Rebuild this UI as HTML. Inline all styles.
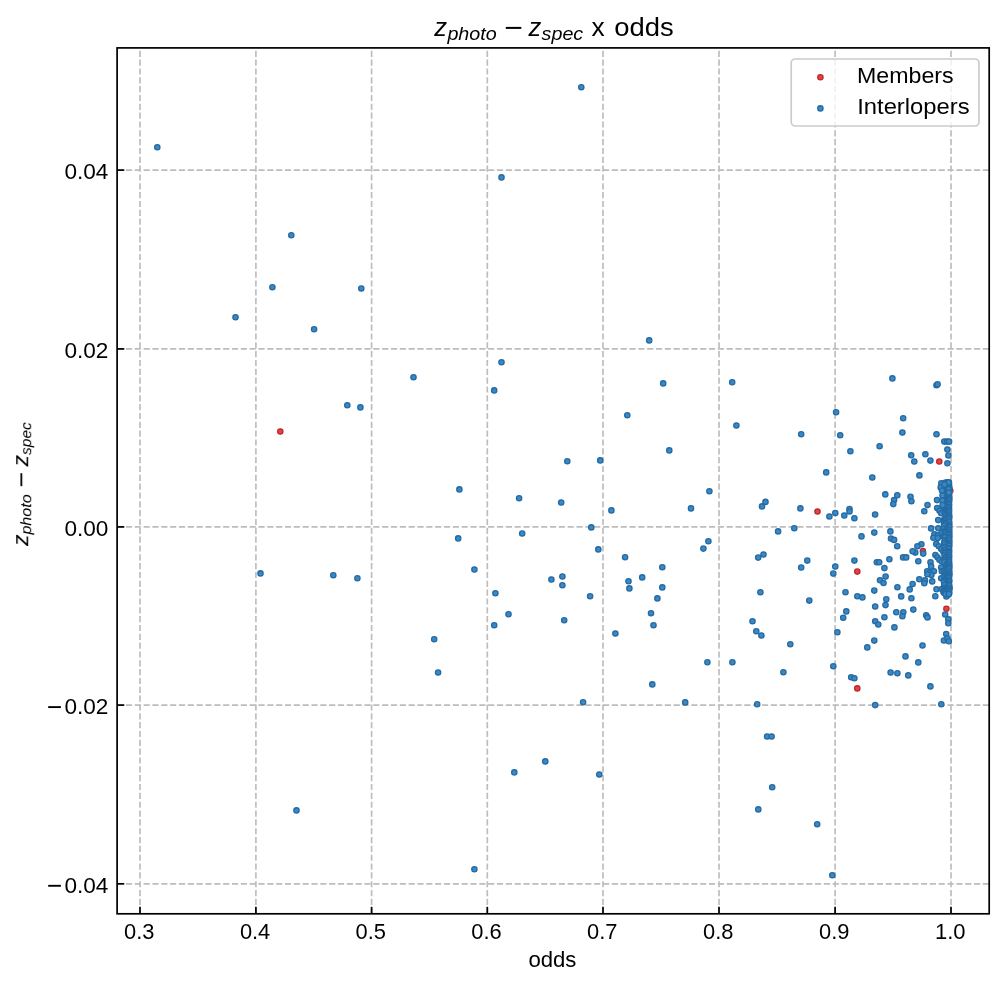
<!DOCTYPE html>
<html><head><meta charset="utf-8"><title>z_photo - z_spec x odds</title>
<style>
html,body{margin:0;padding:0;background:#fff;}
body{width:1004px;height:985px;overflow:hidden;font-family:"Liberation Sans",sans-serif;}
svg{display:block;}
text{font-family:"Liberation Sans",sans-serif;fill:#000;}
.it{font-style:italic;}
</style></head><body>
<svg width="1004" height="985" viewBox="0 0 1004 985">
<defs><filter id="gf" x="0" y="0" width="1004" height="985" filterUnits="userSpaceOnUse" color-interpolation-filters="sRGB"><feOffset dx="0" dy="0"/></filter></defs>
<rect x="0" y="0" width="1004" height="985" fill="#ffffff"/>
<g filter="url(#gf)">

<g stroke="#bdbdbd" stroke-width="1.667" stroke-dasharray="6.167 2.667" fill="none">
<line x1="140.0" y1="913.8" x2="140.0" y2="47.9"/>
<line x1="255.9" y1="913.8" x2="255.9" y2="47.9"/>
<line x1="371.6" y1="913.8" x2="371.6" y2="47.9"/>
<line x1="487.3" y1="913.8" x2="487.3" y2="47.9"/>
<line x1="603.0" y1="913.8" x2="603.0" y2="47.9"/>
<line x1="719.0" y1="913.8" x2="719.0" y2="47.9"/>
<line x1="835.1" y1="913.8" x2="835.1" y2="47.9"/>
<line x1="951.0" y1="913.8" x2="951.0" y2="47.9"/>
<line x1="117.1" y1="170.1" x2="989.2" y2="170.1"/>
<line x1="117.1" y1="348.9" x2="989.2" y2="348.9"/>
<line x1="117.1" y1="526.9" x2="989.2" y2="526.9"/>
<line x1="117.1" y1="705.1" x2="989.2" y2="705.1"/>
<line x1="117.1" y1="883.8" x2="989.2" y2="883.8"/>
</g>
<g fill="#e04446" stroke="#c0272a" stroke-width="1.3"><circle cx="280.3" cy="431.5" r="2.65"/>
<circle cx="817.5" cy="511.5" r="2.65"/>
<circle cx="857.3" cy="571.6" r="2.65"/>
<circle cx="857.3" cy="688.4" r="2.65"/>
<circle cx="939.3" cy="461.5" r="2.65"/>
<circle cx="950.3" cy="490.7" r="2.65"/>
<circle cx="922.9" cy="551.0" r="2.65"/>
<circle cx="946.4" cy="608.8" r="2.65"/></g>
<g fill="#3a88c4" stroke="#256aa3" stroke-width="1.3"><path d="M948.1 485 L948.1 594" stroke="#2c7ab6" stroke-width="8.4" stroke-linecap="round" fill="none"/><circle cx="157.3" cy="147.2" r="2.65"/>
<circle cx="291.3" cy="235.2" r="2.65"/>
<circle cx="272.4" cy="287.3" r="2.65"/>
<circle cx="361.3" cy="288.5" r="2.65"/>
<circle cx="235.5" cy="317.2" r="2.65"/>
<circle cx="314.1" cy="329.3" r="2.65"/>
<circle cx="347.3" cy="405.3" r="2.65"/>
<circle cx="360.4" cy="407.4" r="2.65"/>
<circle cx="260.5" cy="573.4" r="2.65"/>
<circle cx="333.3" cy="575.3" r="2.65"/>
<circle cx="357.4" cy="578.3" r="2.65"/>
<circle cx="296.5" cy="810.4" r="2.65"/>
<circle cx="581.3" cy="87.2" r="2.65"/>
<circle cx="501.5" cy="177.4" r="2.65"/>
<circle cx="649.2" cy="340.4" r="2.65"/>
<circle cx="501.5" cy="362.3" r="2.65"/>
<circle cx="413.5" cy="377.3" r="2.65"/>
<circle cx="494.2" cy="390.4" r="2.65"/>
<circle cx="663.2" cy="383.4" r="2.65"/>
<circle cx="627.3" cy="415.3" r="2.65"/>
<circle cx="669.3" cy="450.4" r="2.65"/>
<circle cx="567.3" cy="461.3" r="2.65"/>
<circle cx="600.2" cy="460.4" r="2.65"/>
<circle cx="459.4" cy="489.4" r="2.65"/>
<circle cx="519.1" cy="498.2" r="2.65"/>
<circle cx="561.2" cy="502.5" r="2.65"/>
<circle cx="611.4" cy="510.4" r="2.65"/>
<circle cx="691.0" cy="508.4" r="2.65"/>
<circle cx="591.3" cy="527.4" r="2.65"/>
<circle cx="522.2" cy="533.5" r="2.65"/>
<circle cx="458.2" cy="538.4" r="2.65"/>
<circle cx="598.3" cy="549.4" r="2.65"/>
<circle cx="625.1" cy="557.3" r="2.65"/>
<circle cx="474.4" cy="569.5" r="2.65"/>
<circle cx="662.3" cy="567.3" r="2.65"/>
<circle cx="562.4" cy="576.5" r="2.65"/>
<circle cx="551.4" cy="579.5" r="2.65"/>
<circle cx="642.2" cy="577.4" r="2.65"/>
<circle cx="628.5" cy="581.3" r="2.65"/>
<circle cx="562.4" cy="585.3" r="2.65"/>
<circle cx="629.4" cy="588.4" r="2.65"/>
<circle cx="662.3" cy="587.4" r="2.65"/>
<circle cx="495.4" cy="593.2" r="2.65"/>
<circle cx="590.1" cy="596.3" r="2.65"/>
<circle cx="657.4" cy="598.4" r="2.65"/>
<circle cx="651.0" cy="613.3" r="2.65"/>
<circle cx="508.5" cy="614.2" r="2.65"/>
<circle cx="564.2" cy="620.3" r="2.65"/>
<circle cx="494.2" cy="625.3" r="2.65"/>
<circle cx="434.2" cy="639.3" r="2.65"/>
<circle cx="438.1" cy="672.5" r="2.65"/>
<circle cx="653.5" cy="625.3" r="2.65"/>
<circle cx="615.4" cy="633.5" r="2.65"/>
<circle cx="652.3" cy="684.4" r="2.65"/>
<circle cx="583.1" cy="702.3" r="2.65"/>
<circle cx="685.2" cy="702.4" r="2.65"/>
<circle cx="545.3" cy="761.4" r="2.65"/>
<circle cx="514.3" cy="772.4" r="2.65"/>
<circle cx="599.3" cy="774.5" r="2.65"/>
<circle cx="474.4" cy="869.3" r="2.65"/>
<circle cx="732.2" cy="382.2" r="2.65"/>
<circle cx="736.4" cy="425.5" r="2.65"/>
<circle cx="801.2" cy="434.2" r="2.65"/>
<circle cx="836.1" cy="412.3" r="2.65"/>
<circle cx="840.2" cy="435.2" r="2.65"/>
<circle cx="850.4" cy="451.3" r="2.65"/>
<circle cx="879.6" cy="446.2" r="2.65"/>
<circle cx="826.2" cy="472.4" r="2.65"/>
<circle cx="872.3" cy="477.5" r="2.65"/>
<circle cx="709.4" cy="491.3" r="2.65"/>
<circle cx="765.5" cy="501.9" r="2.65"/>
<circle cx="762.0" cy="506.4" r="2.65"/>
<circle cx="800.4" cy="508.4" r="2.65"/>
<circle cx="829.4" cy="516.5" r="2.65"/>
<circle cx="835.3" cy="513.1" r="2.65"/>
<circle cx="844.3" cy="515.5" r="2.65"/>
<circle cx="849.5" cy="509.0" r="2.65"/>
<circle cx="849.5" cy="511.5" r="2.65"/>
<circle cx="854.4" cy="518.2" r="2.65"/>
<circle cx="875.1" cy="514.5" r="2.65"/>
<circle cx="778.1" cy="531.4" r="2.65"/>
<circle cx="794.3" cy="528.3" r="2.65"/>
<circle cx="874.3" cy="532.6" r="2.65"/>
<circle cx="861.5" cy="536.4" r="2.65"/>
<circle cx="708.4" cy="541.3" r="2.65"/>
<circle cx="703.4" cy="548.6" r="2.65"/>
<circle cx="763.5" cy="554.5" r="2.65"/>
<circle cx="758.2" cy="557.6" r="2.65"/>
<circle cx="807.3" cy="560.6" r="2.65"/>
<circle cx="801.2" cy="567.5" r="2.65"/>
<circle cx="835.3" cy="566.5" r="2.65"/>
<circle cx="833.3" cy="573.6" r="2.65"/>
<circle cx="854.4" cy="560.6" r="2.65"/>
<circle cx="876.8" cy="562.3" r="2.65"/>
<circle cx="879.2" cy="562.3" r="2.65"/>
<circle cx="880.0" cy="580.2" r="2.65"/>
<circle cx="760.4" cy="592.3" r="2.65"/>
<circle cx="809.3" cy="600.6" r="2.65"/>
<circle cx="845.5" cy="592.3" r="2.65"/>
<circle cx="874.3" cy="590.6" r="2.65"/>
<circle cx="857.3" cy="596.3" r="2.65"/>
<circle cx="862.4" cy="597.4" r="2.65"/>
<circle cx="875.2" cy="606.5" r="2.65"/>
<circle cx="846.3" cy="611.4" r="2.65"/>
<circle cx="843.2" cy="617.7" r="2.65"/>
<circle cx="752.5" cy="621.3" r="2.65"/>
<circle cx="875.2" cy="621.3" r="2.65"/>
<circle cx="878.3" cy="624.5" r="2.65"/>
<circle cx="756.3" cy="631.3" r="2.65"/>
<circle cx="761.4" cy="635.5" r="2.65"/>
<circle cx="837.4" cy="632.3" r="2.65"/>
<circle cx="790.3" cy="644.3" r="2.65"/>
<circle cx="874.3" cy="640.6" r="2.65"/>
<circle cx="867.3" cy="647.4" r="2.65"/>
<circle cx="707.4" cy="662.3" r="2.65"/>
<circle cx="732.4" cy="662.3" r="2.65"/>
<circle cx="833.3" cy="666.3" r="2.65"/>
<circle cx="783.4" cy="672.3" r="2.65"/>
<circle cx="851.2" cy="677.3" r="2.65"/>
<circle cx="854.4" cy="678.2" r="2.65"/>
<circle cx="757.2" cy="704.3" r="2.65"/>
<circle cx="875.2" cy="705.1" r="2.65"/>
<circle cx="767.1" cy="736.5" r="2.65"/>
<circle cx="771.6" cy="736.5" r="2.65"/>
<circle cx="772.2" cy="787.3" r="2.65"/>
<circle cx="758.3" cy="809.4" r="2.65"/>
<circle cx="817.2" cy="824.3" r="2.65"/>
<circle cx="832.3" cy="875.2" r="2.65"/>
<circle cx="892.4" cy="378.4" r="2.65"/>
<circle cx="936.5" cy="385.3" r="2.65"/>
<circle cx="937.6" cy="384.3" r="2.65"/>
<circle cx="903.2" cy="418.3" r="2.65"/>
<circle cx="902.4" cy="432.5" r="2.65"/>
<circle cx="936.5" cy="434.2" r="2.65"/>
<circle cx="944.3" cy="441.6" r="2.65"/>
<circle cx="947.1" cy="441.6" r="2.65"/>
<circle cx="949.1" cy="441.6" r="2.65"/>
<circle cx="947.4" cy="449.5" r="2.65"/>
<circle cx="948.4" cy="455.5" r="2.65"/>
<circle cx="947.4" cy="463.3" r="2.65"/>
<circle cx="911.2" cy="455.2" r="2.65"/>
<circle cx="925.4" cy="454.2" r="2.65"/>
<circle cx="930.4" cy="460.6" r="2.65"/>
<circle cx="914.3" cy="461.5" r="2.65"/>
<circle cx="919.4" cy="475.4" r="2.65"/>
<circle cx="885.3" cy="494.4" r="2.65"/>
<circle cx="897.3" cy="495.2" r="2.65"/>
<circle cx="894.1" cy="500.0" r="2.65"/>
<circle cx="893.3" cy="504.1" r="2.65"/>
<circle cx="910.5" cy="496.8" r="2.65"/>
<circle cx="911.4" cy="501.3" r="2.65"/>
<circle cx="927.5" cy="505.1" r="2.65"/>
<circle cx="924.3" cy="511.2" r="2.65"/>
<circle cx="937.0" cy="500.1" r="2.65"/>
<circle cx="937.2" cy="508.1" r="2.65"/>
<circle cx="939.5" cy="510.8" r="2.65"/>
<circle cx="941.2" cy="513.2" r="2.65"/>
<circle cx="938.2" cy="520.1" r="2.65"/>
<circle cx="931.1" cy="528.4" r="2.65"/>
<circle cx="938.3" cy="528.2" r="2.65"/>
<circle cx="890.4" cy="531.4" r="2.65"/>
<circle cx="891.0" cy="538.5" r="2.65"/>
<circle cx="894.1" cy="539.9" r="2.65"/>
<circle cx="897.2" cy="546.3" r="2.65"/>
<circle cx="934.4" cy="534.2" r="2.65"/>
<circle cx="933.4" cy="537.8" r="2.65"/>
<circle cx="938.1" cy="535.4" r="2.65"/>
<circle cx="937.8" cy="538.1" r="2.65"/>
<circle cx="941.8" cy="532.3" r="2.65"/>
<circle cx="936.3" cy="543.9" r="2.65"/>
<circle cx="938.8" cy="546.3" r="2.65"/>
<circle cx="941.2" cy="549.0" r="2.65"/>
<circle cx="943.3" cy="551.8" r="2.65"/>
<circle cx="935.4" cy="555.1" r="2.65"/>
<circle cx="937.5" cy="557.3" r="2.65"/>
<circle cx="939.4" cy="559.7" r="2.65"/>
<circle cx="941.8" cy="561.5" r="2.65"/>
<circle cx="921.4" cy="544.2" r="2.65"/>
<circle cx="917.4" cy="546.3" r="2.65"/>
<circle cx="923.2" cy="553.6" r="2.65"/>
<circle cx="915.3" cy="552.6" r="2.65"/>
<circle cx="912.6" cy="551.3" r="2.65"/>
<circle cx="903.1" cy="557.4" r="2.65"/>
<circle cx="906.2" cy="557.4" r="2.65"/>
<circle cx="889.4" cy="559.3" r="2.65"/>
<circle cx="918.3" cy="561.2" r="2.65"/>
<circle cx="930.5" cy="562.2" r="2.65"/>
<circle cx="884.4" cy="568.1" r="2.65"/>
<circle cx="931.1" cy="566.4" r="2.65"/>
<circle cx="927.2" cy="571.3" r="2.65"/>
<circle cx="930.2" cy="572.5" r="2.65"/>
<circle cx="933.9" cy="571.3" r="2.65"/>
<circle cx="931.4" cy="574.9" r="2.65"/>
<circle cx="927.4" cy="574.3" r="2.65"/>
<circle cx="941.2" cy="567.6" r="2.65"/>
<circle cx="941.8" cy="571.3" r="2.65"/>
<circle cx="885.6" cy="576.6" r="2.65"/>
<circle cx="883.5" cy="583.0" r="2.65"/>
<circle cx="919.3" cy="579.2" r="2.65"/>
<circle cx="941.2" cy="578.3" r="2.65"/>
<circle cx="932.2" cy="581.4" r="2.65"/>
<circle cx="925.0" cy="580.4" r="2.65"/>
<circle cx="924.3" cy="583.3" r="2.65"/>
<circle cx="912.6" cy="584.0" r="2.65"/>
<circle cx="909.7" cy="589.4" r="2.65"/>
<circle cx="897.4" cy="587.3" r="2.65"/>
<circle cx="936.5" cy="589.2" r="2.65"/>
<circle cx="941.8" cy="589.1" r="2.65"/>
<circle cx="943.6" cy="592.5" r="2.65"/>
<circle cx="948.5" cy="587.3" r="2.65"/>
<circle cx="947.9" cy="591.0" r="2.65"/>
<circle cx="946.4" cy="596.4" r="2.65"/>
<circle cx="949.6" cy="588.0" r="2.65"/>
<circle cx="945.0" cy="586.2" r="2.65"/>
<circle cx="935.3" cy="596.3" r="2.65"/>
<circle cx="901.2" cy="596.4" r="2.65"/>
<circle cx="911.4" cy="598.2" r="2.65"/>
<circle cx="886.3" cy="599.3" r="2.65"/>
<circle cx="885.5" cy="605.1" r="2.65"/>
<circle cx="913.3" cy="609.6" r="2.65"/>
<circle cx="896.3" cy="612.2" r="2.65"/>
<circle cx="903.3" cy="612.3" r="2.65"/>
<circle cx="902.4" cy="616.3" r="2.65"/>
<circle cx="884.4" cy="617.3" r="2.65"/>
<circle cx="926.2" cy="615.2" r="2.65"/>
<circle cx="927.5" cy="617.4" r="2.65"/>
<circle cx="894.4" cy="627.4" r="2.65"/>
<circle cx="945.2" cy="614.5" r="2.65"/>
<circle cx="948.3" cy="619.2" r="2.65"/>
<circle cx="948.3" cy="623.3" r="2.65"/>
<circle cx="946.2" cy="634.1" r="2.65"/>
<circle cx="943.9" cy="640.5" r="2.65"/>
<circle cx="947.4" cy="638.3" r="2.65"/>
<circle cx="948.8" cy="641.2" r="2.65"/>
<circle cx="922.5" cy="645.5" r="2.65"/>
<circle cx="905.5" cy="656.4" r="2.65"/>
<circle cx="918.3" cy="662.4" r="2.65"/>
<circle cx="890.6" cy="672.5" r="2.65"/>
<circle cx="897.4" cy="673.3" r="2.65"/>
<circle cx="908.3" cy="675.4" r="2.65"/>
<circle cx="930.4" cy="686.4" r="2.65"/>
<circle cx="941.3" cy="704.3" r="2.65"/>
<circle cx="945.5" cy="482.6" r="2.65"/>
<circle cx="947.2" cy="482.5" r="2.65"/>
<circle cx="949.0" cy="482.9" r="2.65"/>
<circle cx="944.1" cy="484.8" r="2.65"/>
<circle cx="944.0" cy="484.7" r="2.65"/>
<circle cx="948.7" cy="484.4" r="2.65"/>
<circle cx="946.0" cy="487.0" r="2.65"/>
<circle cx="944.4" cy="486.3" r="2.65"/>
<circle cx="949.1" cy="487.0" r="2.65"/>
<circle cx="946.8" cy="488.3" r="2.65"/>
<circle cx="948.9" cy="487.9" r="2.65"/>
<circle cx="949.2" cy="488.2" r="2.65"/>
<circle cx="944.6" cy="489.7" r="2.65"/>
<circle cx="945.4" cy="490.6" r="2.65"/>
<circle cx="948.8" cy="490.3" r="2.65"/>
<circle cx="947.1" cy="491.8" r="2.65"/>
<circle cx="946.6" cy="491.5" r="2.65"/>
<circle cx="948.7" cy="491.7" r="2.65"/>
<circle cx="947.3" cy="493.7" r="2.65"/>
<circle cx="945.4" cy="493.9" r="2.65"/>
<circle cx="949.0" cy="493.6" r="2.65"/>
<circle cx="947.9" cy="495.8" r="2.65"/>
<circle cx="945.1" cy="495.7" r="2.65"/>
<circle cx="949.0" cy="496.0" r="2.65"/>
<circle cx="947.6" cy="497.1" r="2.65"/>
<circle cx="948.9" cy="496.9" r="2.65"/>
<circle cx="949.0" cy="497.7" r="2.65"/>
<circle cx="944.6" cy="499.2" r="2.65"/>
<circle cx="944.0" cy="499.4" r="2.65"/>
<circle cx="949.2" cy="499.3" r="2.65"/>
<circle cx="948.4" cy="500.8" r="2.65"/>
<circle cx="947.4" cy="501.1" r="2.65"/>
<circle cx="949.0" cy="501.0" r="2.65"/>
<circle cx="948.2" cy="503.3" r="2.65"/>
<circle cx="946.3" cy="503.0" r="2.65"/>
<circle cx="948.7" cy="503.0" r="2.65"/>
<circle cx="947.2" cy="505.2" r="2.65"/>
<circle cx="948.1" cy="504.3" r="2.65"/>
<circle cx="948.9" cy="504.8" r="2.65"/>
<circle cx="943.9" cy="506.4" r="2.65"/>
<circle cx="944.7" cy="505.9" r="2.65"/>
<circle cx="948.7" cy="506.7" r="2.65"/>
<circle cx="944.5" cy="507.9" r="2.65"/>
<circle cx="945.8" cy="508.6" r="2.65"/>
<circle cx="948.7" cy="508.1" r="2.65"/>
<circle cx="946.7" cy="510.5" r="2.65"/>
<circle cx="948.1" cy="510.4" r="2.65"/>
<circle cx="948.9" cy="509.9" r="2.65"/>
<circle cx="945.7" cy="512.3" r="2.65"/>
<circle cx="948.8" cy="511.4" r="2.65"/>
<circle cx="948.8" cy="511.5" r="2.65"/>
<circle cx="945.0" cy="513.6" r="2.65"/>
<circle cx="946.9" cy="513.3" r="2.65"/>
<circle cx="948.7" cy="513.5" r="2.65"/>
<circle cx="945.7" cy="515.5" r="2.65"/>
<circle cx="948.8" cy="515.6" r="2.65"/>
<circle cx="949.0" cy="515.5" r="2.65"/>
<circle cx="947.3" cy="516.7" r="2.65"/>
<circle cx="948.5" cy="517.5" r="2.65"/>
<circle cx="949.2" cy="517.5" r="2.65"/>
<circle cx="945.8" cy="518.9" r="2.65"/>
<circle cx="944.3" cy="519.2" r="2.65"/>
<circle cx="948.7" cy="518.6" r="2.65"/>
<circle cx="944.9" cy="520.4" r="2.65"/>
<circle cx="945.6" cy="520.3" r="2.65"/>
<circle cx="948.7" cy="520.5" r="2.65"/>
<circle cx="944.3" cy="522.4" r="2.65"/>
<circle cx="943.9" cy="523.0" r="2.65"/>
<circle cx="949.1" cy="522.2" r="2.65"/>
<circle cx="945.1" cy="524.2" r="2.65"/>
<circle cx="945.7" cy="523.9" r="2.65"/>
<circle cx="949.2" cy="524.9" r="2.65"/>
<circle cx="946.2" cy="526.2" r="2.65"/>
<circle cx="944.2" cy="525.7" r="2.65"/>
<circle cx="948.9" cy="526.0" r="2.65"/>
<circle cx="948.1" cy="527.6" r="2.65"/>
<circle cx="943.9" cy="528.5" r="2.65"/>
<circle cx="949.0" cy="527.6" r="2.65"/>
<circle cx="946.6" cy="529.2" r="2.65"/>
<circle cx="946.5" cy="530.4" r="2.65"/>
<circle cx="949.2" cy="530.0" r="2.65"/>
<circle cx="945.2" cy="531.4" r="2.65"/>
<circle cx="944.7" cy="531.9" r="2.65"/>
<circle cx="949.0" cy="531.9" r="2.65"/>
<circle cx="945.5" cy="533.1" r="2.65"/>
<circle cx="948.0" cy="534.0" r="2.65"/>
<circle cx="949.2" cy="533.7" r="2.65"/>
<circle cx="948.1" cy="535.5" r="2.65"/>
<circle cx="945.0" cy="535.2" r="2.65"/>
<circle cx="948.9" cy="534.7" r="2.65"/>
<circle cx="943.9" cy="536.7" r="2.65"/>
<circle cx="945.1" cy="537.2" r="2.65"/>
<circle cx="949.3" cy="536.9" r="2.65"/>
<circle cx="948.7" cy="539.4" r="2.65"/>
<circle cx="948.8" cy="538.6" r="2.65"/>
<circle cx="948.8" cy="538.5" r="2.65"/>
<circle cx="944.8" cy="540.2" r="2.65"/>
<circle cx="947.0" cy="541.1" r="2.65"/>
<circle cx="949.2" cy="540.6" r="2.65"/>
<circle cx="947.2" cy="542.8" r="2.65"/>
<circle cx="944.2" cy="542.6" r="2.65"/>
<circle cx="949.2" cy="542.7" r="2.65"/>
<circle cx="947.7" cy="544.2" r="2.65"/>
<circle cx="944.7" cy="544.5" r="2.65"/>
<circle cx="948.9" cy="544.5" r="2.65"/>
<circle cx="948.9" cy="545.9" r="2.65"/>
<circle cx="945.9" cy="546.5" r="2.65"/>
<circle cx="949.1" cy="545.7" r="2.65"/>
<circle cx="944.5" cy="547.4" r="2.65"/>
<circle cx="948.5" cy="548.2" r="2.65"/>
<circle cx="948.8" cy="548.1" r="2.65"/>
<circle cx="948.9" cy="549.8" r="2.65"/>
<circle cx="945.6" cy="549.7" r="2.65"/>
<circle cx="948.8" cy="549.1" r="2.65"/>
<circle cx="948.8" cy="551.6" r="2.65"/>
<circle cx="946.5" cy="551.9" r="2.65"/>
<circle cx="949.0" cy="551.8" r="2.65"/>
<circle cx="948.1" cy="552.9" r="2.65"/>
<circle cx="945.1" cy="553.0" r="2.65"/>
<circle cx="948.8" cy="553.3" r="2.65"/>
<circle cx="945.1" cy="554.9" r="2.65"/>
<circle cx="944.5" cy="555.5" r="2.65"/>
<circle cx="948.9" cy="555.0" r="2.65"/>
<circle cx="946.8" cy="557.3" r="2.65"/>
<circle cx="946.0" cy="557.3" r="2.65"/>
<circle cx="949.0" cy="556.8" r="2.65"/>
<circle cx="946.5" cy="558.0" r="2.65"/>
<circle cx="946.1" cy="558.2" r="2.65"/>
<circle cx="948.7" cy="558.9" r="2.65"/>
<circle cx="944.7" cy="560.4" r="2.65"/>
<circle cx="947.6" cy="560.5" r="2.65"/>
<circle cx="948.9" cy="560.4" r="2.65"/>
<circle cx="946.7" cy="562.5" r="2.65"/>
<circle cx="944.4" cy="562.3" r="2.65"/>
<circle cx="948.8" cy="562.0" r="2.65"/>
<circle cx="947.8" cy="564.0" r="2.65"/>
<circle cx="946.7" cy="564.3" r="2.65"/>
<circle cx="949.2" cy="563.9" r="2.65"/>
<circle cx="947.0" cy="565.8" r="2.65"/>
<circle cx="946.5" cy="566.0" r="2.65"/>
<circle cx="949.0" cy="565.8" r="2.65"/>
<circle cx="946.3" cy="568.1" r="2.65"/>
<circle cx="947.4" cy="568.1" r="2.65"/>
<circle cx="949.3" cy="567.4" r="2.65"/>
<circle cx="946.7" cy="569.9" r="2.65"/>
<circle cx="948.2" cy="569.0" r="2.65"/>
<circle cx="948.8" cy="569.3" r="2.65"/>
<circle cx="944.2" cy="570.9" r="2.65"/>
<circle cx="944.2" cy="571.4" r="2.65"/>
<circle cx="949.2" cy="571.6" r="2.65"/>
<circle cx="944.6" cy="573.3" r="2.65"/>
<circle cx="947.2" cy="572.6" r="2.65"/>
<circle cx="949.2" cy="573.5" r="2.65"/>
<circle cx="944.9" cy="575.3" r="2.65"/>
<circle cx="945.9" cy="574.8" r="2.65"/>
<circle cx="949.3" cy="575.1" r="2.65"/>
<circle cx="944.6" cy="576.5" r="2.65"/>
<circle cx="946.5" cy="576.4" r="2.65"/>
<circle cx="948.8" cy="576.4" r="2.65"/>
<circle cx="947.6" cy="577.8" r="2.65"/>
<circle cx="946.7" cy="578.3" r="2.65"/>
<circle cx="948.7" cy="578.2" r="2.65"/>
<circle cx="947.0" cy="580.2" r="2.65"/>
<circle cx="944.1" cy="580.8" r="2.65"/>
<circle cx="949.2" cy="580.7" r="2.65"/>
<circle cx="944.3" cy="581.7" r="2.65"/>
<circle cx="944.0" cy="582.3" r="2.65"/>
<circle cx="948.9" cy="581.6" r="2.65"/>
<circle cx="946.0" cy="584.3" r="2.65"/>
<circle cx="948.1" cy="583.5" r="2.65"/>
<circle cx="948.8" cy="584.2" r="2.65"/>
<circle cx="946.8" cy="585.8" r="2.65"/>
<circle cx="944.3" cy="585.1" r="2.65"/>
<circle cx="949.1" cy="585.5" r="2.65"/>
<circle cx="944.2" cy="587.9" r="2.65"/>
<circle cx="947.1" cy="587.8" r="2.65"/>
<circle cx="948.8" cy="587.8" r="2.65"/>
<circle cx="944.1" cy="589.6" r="2.65"/>
<circle cx="946.2" cy="589.0" r="2.65"/>
<circle cx="949.0" cy="589.6" r="2.65"/>
<circle cx="945.2" cy="590.6" r="2.65"/>
<circle cx="946.5" cy="590.7" r="2.65"/>
<circle cx="948.8" cy="590.7" r="2.65"/>
<circle cx="944.1" cy="592.4" r="2.65"/>
<circle cx="945.4" cy="592.6" r="2.65"/>
<circle cx="949.2" cy="592.6" r="2.65"/>
<circle cx="946.4" cy="594.2" r="2.65"/>
<circle cx="945.6" cy="594.0" r="2.65"/>
<circle cx="948.9" cy="594.1" r="2.65"/>
<circle cx="941.3" cy="483.2" r="2.65"/>
<circle cx="948.7" cy="482.4" r="2.65"/>
<circle cx="940.7" cy="487.4" r="2.65"/>
<circle cx="944.5" cy="484.5" r="2.65"/>
<circle cx="942.0" cy="490.5" r="2.65"/>
<circle cx="942.5" cy="495.5" r="2.65"/>
<circle cx="942.3" cy="500.5" r="2.65"/>
<circle cx="942.6" cy="505.0" r="2.65"/>
<circle cx="948.6" cy="489.2" r="2.65"/>
<circle cx="948.9" cy="492.6" r="2.65"/></g>
<g stroke="#000" stroke-width="1.7">
<line x1="140.0" y1="913.8" x2="140.0" y2="906.8"/>
<line x1="255.9" y1="913.8" x2="255.9" y2="906.8"/>
<line x1="371.6" y1="913.8" x2="371.6" y2="906.8"/>
<line x1="487.3" y1="913.8" x2="487.3" y2="906.8"/>
<line x1="603.0" y1="913.8" x2="603.0" y2="906.8"/>
<line x1="719.0" y1="913.8" x2="719.0" y2="906.8"/>
<line x1="835.1" y1="913.8" x2="835.1" y2="906.8"/>
<line x1="951.0" y1="913.8" x2="951.0" y2="906.8"/>
<line x1="117.1" y1="170.1" x2="124.3" y2="170.1"/>
<line x1="117.1" y1="348.9" x2="124.3" y2="348.9"/>
<line x1="117.1" y1="526.9" x2="124.3" y2="526.9"/>
<line x1="117.1" y1="705.1" x2="124.3" y2="705.1"/>
<line x1="117.1" y1="883.8" x2="124.3" y2="883.8"/>
</g>
<rect x="117.1" y="47.9" width="872.1" height="865.9" fill="none" stroke="#000" stroke-width="1.7"/>
<g font-size="22.7">
<text x="124.0" y="939.1" textLength="30.4" lengthAdjust="spacingAndGlyphs">0.3</text>
<text x="239.9" y="939.1" textLength="30.4" lengthAdjust="spacingAndGlyphs">0.4</text>
<text x="355.6" y="939.1" textLength="30.4" lengthAdjust="spacingAndGlyphs">0.5</text>
<text x="471.3" y="939.1" textLength="30.4" lengthAdjust="spacingAndGlyphs">0.6</text>
<text x="587.0" y="939.1" textLength="30.4" lengthAdjust="spacingAndGlyphs">0.7</text>
<text x="703.0" y="939.1" textLength="30.4" lengthAdjust="spacingAndGlyphs">0.8</text>
<text x="819.1" y="939.1" textLength="30.4" lengthAdjust="spacingAndGlyphs">0.9</text>
<text x="935.0" y="939.1" textLength="30.6" lengthAdjust="spacingAndGlyphs">1.0</text>
<text x="64.4" y="178.9" textLength="44.0" lengthAdjust="spacingAndGlyphs">0.04</text>
<text x="64.4" y="357.7" textLength="44.0" lengthAdjust="spacingAndGlyphs">0.02</text>
<text x="64.4" y="535.6999999999999" textLength="44.0" lengthAdjust="spacingAndGlyphs">0.00</text>
<line x1="48.2" y1="707.1" x2="60.9" y2="707.1" stroke="#000" stroke-width="1.9"/>
<text x="64.4" y="713.9" textLength="44.0" lengthAdjust="spacingAndGlyphs">0.02</text>
<line x1="48.2" y1="885.8" x2="60.9" y2="885.8" stroke="#000" stroke-width="1.9"/>
<text x="64.4" y="892.5999999999999" textLength="44.0" lengthAdjust="spacingAndGlyphs">0.04</text>
</g>
<text x="528.4" y="966.9" font-size="21.6" textLength="48.0" lengthAdjust="spacingAndGlyphs">odds</text>
<g font-size="25.4">
<text class="it" x="434.3" y="35.5" textLength="12.8" lengthAdjust="spacingAndGlyphs">z</text>
<text class="it" x="447.4" y="39.5" font-size="18.2" textLength="49.4" lengthAdjust="spacingAndGlyphs">photo</text>
<line x1="505.8" y1="27.9" x2="521.3" y2="27.9" stroke="#000" stroke-width="2"/>
<text class="it" x="528.6" y="35.5" textLength="12.8" lengthAdjust="spacingAndGlyphs">z</text>
<text class="it" x="541.6" y="39.5" font-size="18.2" textLength="41.6" lengthAdjust="spacingAndGlyphs">spec</text>
<text x="591.5" y="35.5" textLength="13.2" lengthAdjust="spacingAndGlyphs">x</text>
<text x="614.2" y="35.5" textLength="59.4" lengthAdjust="spacingAndGlyphs">odds</text>
</g>
<g font-size="21.8" transform="translate(28.2,546.0) rotate(-90)">
<text class="it" x="0" y="0" textLength="11.6" lengthAdjust="spacingAndGlyphs">z</text>
<text class="it" x="11.4" y="3.2" font-size="15.0" textLength="40.4" lengthAdjust="spacingAndGlyphs">photo</text>
<line x1="59.8" y1="-6.8" x2="72.8" y2="-6.8" stroke="#000" stroke-width="1.8"/>
<text class="it" x="79.4" y="0" textLength="11.6" lengthAdjust="spacingAndGlyphs">z</text>
<text class="it" x="91.0" y="3.2" font-size="15.0" textLength="32.8" lengthAdjust="spacingAndGlyphs">spec</text>
</g>
<rect x="791.2" y="59.0" width="187.8" height="67.0" rx="4" ry="4" fill="#ffffff" fill-opacity="0.8" stroke="#cccccc" stroke-width="1.7"/>
<circle cx="820.4" cy="77.3" r="2.65" fill="#e04446" stroke="#c0272a" stroke-width="1.3"/>
<circle cx="820.4" cy="108.4" r="2.65" fill="#3a88c4" stroke="#256aa3" stroke-width="1.3"/>
<text x="857.0" y="83.4" font-size="22.2" textLength="96.6" lengthAdjust="spacingAndGlyphs">Members</text>
<text x="857.2" y="113.7" font-size="22.2" textLength="112.4" lengthAdjust="spacingAndGlyphs">Interlopers</text>

</g></svg></body></html>
